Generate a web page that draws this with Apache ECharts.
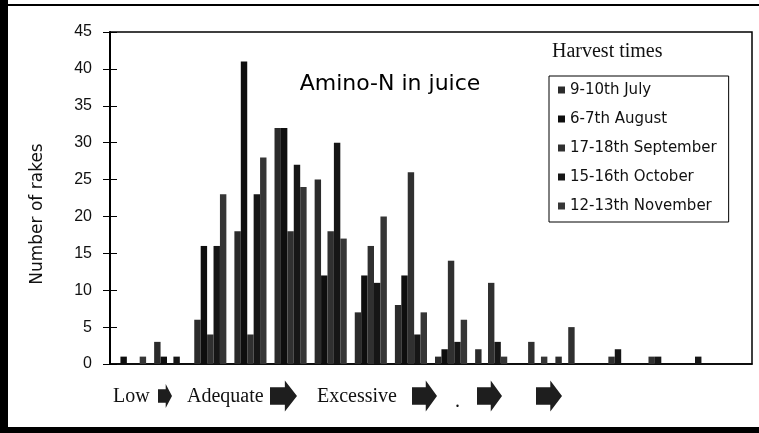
<!DOCTYPE html>
<html>
	<head>
		<meta charset="utf-8">
		<title>Amino-N in juice</title>
		<script src="https://cdn.jsdelivr.net/npm/echarts/dist/echarts.min.js"></script>
		<style>
			body { margin: 0; background: #fff; }
		</style>
	</head>
	<body>
		<div id="main" style="width:759px;height:433px;"></div>
		<script type="text/javascript">
			// amino-N classes (16 bins, no labels on the axis)
			var bins = ['1','2','3','4','5','6','7','8','9','10','11','12','13','14','15','16'];
			var harvestNames = ['9-10th July', '6-7th August', '17-18th September', '15-16th October', '12-13th November'];
			var july      = [0, 3, 6, 18, 32, 25, 7, 8, 1, 2, 0, 1, 0, 0, 0, 0];
			var august    = [1, 1, 16, 41, 32, 12, 12, 12, 2, 0, 0, 0, 0, 0, 0, 0];
			var september = [0, 0, 4, 4, 18, 18, 16, 26, 14, 11, 3, 5, 1, 1, 0, 0];
			var october   = [0, 1, 16, 23, 27, 30, 11, 4, 3, 3, 0, 0, 2, 1, 1, 0];
			var november  = [1, 0, 23, 28, 24, 17, 20, 7, 6, 1, 1, 0, 0, 0, 0, 0];
			var yTicks = {min: 0, max: 45, interval: 5};

			var seriesData = [july, august, september, october, november];
			var colors = ['#2b2b2b', '#0e0e0e', '#303030', '#161616', '#363636'];

			var chart = echarts.init(document.getElementById('main'));

			var series = [];
			for (var i = 0; i < seriesData.length; i++) {
				series.push({
					name: harvestNames[i],
					type: 'bar',
					data: seriesData[i],
					barGap: 0,
					barCategoryGap: '20%',
					itemStyle: {color: colors[i]}
				});
			}

			// block arrows under the axis
			function arrow(x, w, h) {
				var cy = 396;
				var body = h * 0.28;
				var neck = x + w * 0.55;
				return {
					type: 'polygon',
					shape: {points: [[x, cy - body], [neck, cy - body], [neck, cy - h / 2], [x + w, cy], [neck, cy + h / 2], [neck, cy + body], [x, cy + body]]},
					style: {fill: '#1e1e1e'}
				};
			}
			var serif = {fontFamily: 'Liberation Serif', fontSize: 20, fill: '#111', textVerticalAlign: 'middle'};

			var option = {
				animation: false,
				textStyle: {fontFamily: 'DejaVu Sans'},
				title: {
					text: 'Amino-N in juice',
					left: 385,
					top: 68,
					textAlign: 'center',
					textStyle: {fontSize: 22, fontWeight: 'normal', color: '#000', fontFamily: 'DejaVu Sans'}
				},
				legend: {
					orient: 'vertical',
					left: 549,
					top: 76,
					padding: [6, 12, 8, 9],
					itemWidth: 7,
					itemHeight: 7,
					itemGap: 13,
					icon: 'rect',
					selectedMode: false,
					borderColor: '#000',
					borderWidth: 1,
					textStyle: {fontSize: 15, lineHeight: 16, color: '#111', fontFamily: 'DejaVu Sans'},
					data: harvestNames
				},
				grid: {
					left: 110,
					right: 7,
					top: 32,
					bottom: 69,
					show: true,
					borderColor: '#000',
					borderWidth: 1.5
				},
				xAxis: [
					{
						type: 'category',
						data: bins,
						axisLine: {lineStyle: {color: '#000', width: 1.5}},
						axisTick: {length: 8, lineStyle: {color: '#000'}},
						axisLabel: {show: false}
					},
					{
						type: 'category',
						data: bins,
						position: 'bottom',
						axisLine: {show: false},
						axisTick: {inside: true, length: 4, lineStyle: {color: '#000'}},
						axisLabel: {show: false}
					}
				],
				yAxis: [
					{
						type: 'value',
						min: yTicks.min,
						max: yTicks.max,
						interval: yTicks.interval,
						axisLine: {show: true, lineStyle: {color: '#000', width: 2}},
						axisTick: {show: true, length: 7, lineStyle: {color: '#000'}},
						axisLabel: {fontSize: 16, color: '#111', margin: 18, fontFamily: 'Liberation Sans'},
						splitLine: {show: false}
					},
					{
						type: 'value',
						min: yTicks.min,
						max: yTicks.max,
						interval: yTicks.interval,
						position: 'left',
						axisLine: {show: false},
						axisTick: {show: true, inside: true, length: 7, lineStyle: {color: '#000'}},
						axisLabel: {show: false},
						splitLine: {show: false}
					}
				],
				series: series,
				graphic: [
					// scan frame
					{type: 'rect', shape: {x: 0, y: 0, width: 8, height: 433}, style: {fill: '#000'}},
					{type: 'rect', shape: {x: 0, y: 427, width: 759, height: 6}, style: {fill: '#000'}},
					{type: 'rect', shape: {x: 0, y: 4, width: 759, height: 2}, style: {fill: '#000'}},
					{type: 'text', rotation: Math.PI / 2, x: 38, y: 214,
						style: {text: 'Number of rakes', fontSize: 17, fontFamily: 'DejaVu Sans', fill: '#111', textAlign: 'center', textVerticalAlign: 'middle'}},
					{type: 'text', x: 552, y: 52,
						style: {text: 'Harvest times', fontSize: 20, fontFamily: 'Liberation Serif', fill: '#111', textVerticalAlign: 'middle'}},
					{type: 'text', x: 113, y: 397, style: Object.assign({text: 'Low'}, serif)},
					{type: 'text', x: 187, y: 397, style: Object.assign({text: 'Adequate'}, serif)},
					{type: 'text', x: 317, y: 397, style: Object.assign({text: 'Excessive'}, serif)},
					{type: 'text', x: 455, y: 402, style: Object.assign({text: '.'}, serif)},
					arrow(158, 14, 24),
					arrow(270, 27, 31),
					arrow(412, 25, 31),
					arrow(477, 25, 31),
					arrow(536, 26, 31)
				]
			};
			chart.setOption(option);
		</script>
	</body>
</html>
